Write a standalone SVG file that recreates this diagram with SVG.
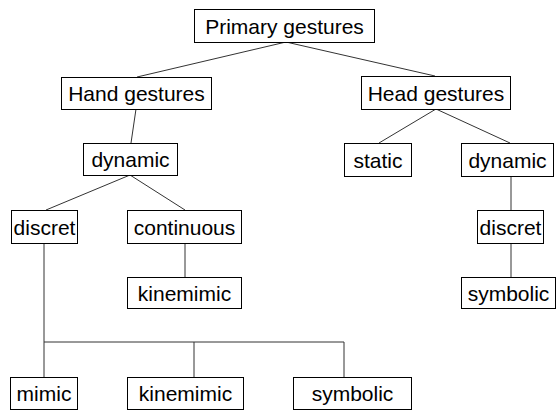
<svg xmlns="http://www.w3.org/2000/svg" width="556" height="410" viewBox="0 0 556 410">
  <style>
    .box { fill: #fff; stroke: #000; stroke-width: 1; }
    .lbl { font-family: "Liberation Sans", Arial, sans-serif; font-size: 21px; fill: #000; text-anchor: middle; }
    .edge { stroke: #333; stroke-width: 1; fill: none; }
  </style>
  <rect width="556" height="410" fill="#fff"/>

  <!-- connectors -->
  <g id="connectors">
    <line class="edge" x1="286" y1="42" x2="137" y2="77"/>
    <line class="edge" x1="286" y1="42" x2="435" y2="76"/>
    <line class="edge" x1="136" y1="109" x2="131" y2="143"/>
    <line class="edge" x1="436" y1="109" x2="379" y2="143"/>
    <line class="edge" x1="436" y1="109" x2="510" y2="143"/>
    <line class="edge" x1="130" y1="175" x2="46" y2="210"/>
    <line class="edge" x1="130" y1="175" x2="185" y2="210"/>
    <line class="edge" x1="185" y1="243" x2="185" y2="277"/>
    <line class="edge" x1="511" y1="176" x2="511" y2="210"/>
    <line class="edge" x1="511" y1="243" x2="511" y2="277"/>
    <path class="edge" d="M44 243 V377 M44 342 H344 V377 M194 342 V377"/>
  </g>

  <g id="primary">
    <rect class="box" x="194.5" y="9.5" width="180" height="33"/>
    <text class="lbl" x="284.5" y="33.5">Primary gestures</text>
  </g>
  <g id="hand">
    <rect class="box" x="61.5" y="77.5" width="150" height="32"/>
    <text class="lbl" x="136.5" y="101">Hand gestures</text>
  </g>
  <g id="head">
    <rect class="box" x="361.5" y="76.5" width="149" height="33"/>
    <text class="lbl" x="436" y="100.5">Head gestures</text>
  </g>
  <g id="hand-dynamic">
    <rect class="box" x="83.5" y="143.5" width="94" height="32"/>
    <text class="lbl" x="130.5" y="167">dynamic</text>
  </g>
  <g id="head-static">
    <rect class="box" x="344.5" y="143.5" width="67" height="33"/>
    <text class="lbl" x="378" y="167.5">static</text>
  </g>
  <g id="head-dynamic">
    <rect class="box" x="461.5" y="143.5" width="92" height="33"/>
    <text class="lbl" x="507.5" y="167.5">dynamic</text>
  </g>
  <g id="hand-discret">
    <rect class="box" x="11.5" y="210.5" width="66" height="33"/>
    <text class="lbl" x="44.5" y="234.5">discret</text>
  </g>
  <g id="hand-continuous">
    <rect class="box" x="127.5" y="210.5" width="114" height="33"/>
    <text class="lbl" x="184.5" y="234.5">continuous</text>
  </g>
  <g id="continuous-kinemimic">
    <rect class="box" x="127.5" y="277.5" width="114" height="31"/>
    <text class="lbl" x="184.5" y="300.5">kinemimic</text>
  </g>
  <g id="head-discret">
    <rect class="box" x="477.5" y="210.5" width="66" height="33"/>
    <text class="lbl" x="510.5" y="234.5">discret</text>
  </g>
  <g id="head-symbolic">
    <rect class="box" x="461.5" y="277.5" width="94" height="31"/>
    <text class="lbl" x="508.5" y="300.5">symbolic</text>
  </g>
  <g id="mimic">
    <rect class="box" x="10.5" y="377.5" width="67" height="32"/>
    <text class="lbl" x="44" y="401">mimic</text>
  </g>
  <g id="discret-kinemimic">
    <rect class="box" x="127.5" y="377.5" width="116" height="32"/>
    <text class="lbl" x="185.5" y="401">kinemimic</text>
  </g>
  <g id="discret-symbolic">
    <rect class="box" x="293.5" y="377.5" width="118" height="32"/>
    <text class="lbl" x="352.5" y="401">symbolic</text>
  </g>
</svg>
